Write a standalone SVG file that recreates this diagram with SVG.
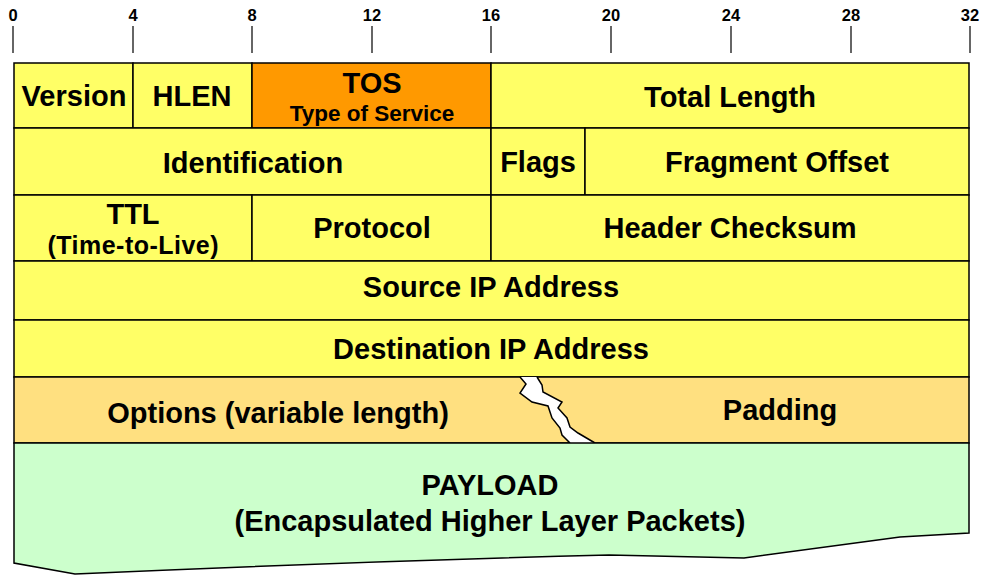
<svg xmlns="http://www.w3.org/2000/svg" width="981" height="575" viewBox="0 0 981 575">
<defs>
<style>
.cell{stroke:#000;stroke-width:1.5}
.y{fill:#FFFF66}
.o{fill:#FF9900}
.op{fill:#FFE080}
.g{fill:#CCFFCC}
.t{font-family:"Liberation Sans",Arial,sans-serif;font-weight:bold;fill:#000;text-anchor:middle}
.big{font-size:29px}
.sm{font-size:22.5px}
.tick{stroke:#333;stroke-width:1.5}
.tl{font-family:"Liberation Sans",Arial,sans-serif;font-weight:bold;font-size:16.5px;fill:#000;text-anchor:middle}
</style>
</defs>
<rect width="981" height="575" fill="#fff"/>
<g id="ruler">
<line class="tick" x1="13" y1="26" x2="13" y2="53"/>
<line class="tick" x1="133" y1="26" x2="133" y2="53"/>
<line class="tick" x1="252" y1="26" x2="252" y2="53"/>
<line class="tick" x1="372" y1="26" x2="372" y2="53"/>
<line class="tick" x1="491" y1="26" x2="491" y2="53"/>
<line class="tick" x1="611" y1="26" x2="611" y2="53"/>
<line class="tick" x1="731" y1="26" x2="731" y2="53"/>
<line class="tick" x1="851" y1="26" x2="851" y2="53"/>
<line class="tick" x1="970" y1="26" x2="970" y2="53"/>
<text class="tl" x="13" y="21">0</text>
<text class="tl" x="133" y="21">4</text>
<text class="tl" x="252" y="21">8</text>
<text class="tl" x="372" y="21">12</text>
<text class="tl" x="491" y="21">16</text>
<text class="tl" x="611" y="21">20</text>
<text class="tl" x="731" y="21">24</text>
<text class="tl" x="851" y="21">28</text>
<text class="tl" x="970" y="21">32</text>
</g>
<g id="version"><rect class="cell y" x="14" y="63" width="119" height="65"/><text class="t big" x="74" y="106">Version</text></g>
<g id="hlen"><rect class="cell y" x="133" y="63" width="119" height="65"/><text class="t big" x="192" y="106">HLEN</text></g>
<g id="tos"><rect class="cell o" x="252" y="63" width="239" height="65"/><text class="t big" x="372" y="93">TOS</text><text class="t sm" x="372" y="121">Type of Service</text></g>
<g id="total-length"><rect class="cell y" x="491" y="63" width="478" height="65"/><text class="t big" x="730" y="107">Total Length</text></g>
<g id="identification"><rect class="cell y" x="14" y="128" width="477" height="67"/><text class="t big" x="253" y="173">Identification</text></g>
<g id="flags"><rect class="cell y" x="491" y="128" width="94" height="67"/><text class="t big" x="538" y="172">Flags</text></g>
<g id="fragment-offset"><rect class="cell y" x="585" y="128" width="384" height="67"/><text class="t big" x="777" y="172">Fragment Offset</text></g>
<g id="ttl"><rect class="cell y" x="14" y="195" width="238" height="66"/><text class="t big" x="133" y="224">TTL</text><text class="t" style="font-size:25px" x="133" y="254" textLength="171">(Time-to-Live)</text></g>
<g id="protocol"><rect class="cell y" x="252" y="195" width="239" height="66"/><text class="t big" x="372" y="238">Protocol</text></g>
<g id="header-checksum"><rect class="cell y" x="491" y="195" width="478" height="66"/><text class="t big" x="730" y="238">Header Checksum</text></g>
<g id="source-ip"><rect class="cell y" x="14" y="261" width="955" height="59"/><text class="t big" x="491" y="297">Source IP Address</text></g>
<g id="destination-ip"><rect class="cell y" x="14" y="320" width="955" height="57"/><text class="t big" x="491" y="359">Destination IP Address</text></g>
<g id="options-padding">
<rect class="cell op" x="14" y="377" width="955" height="66"/>
<path d="M520,377 L526,384 L520,393 L532,402 L548,406 L552,418 L560,428 L562,435 L570,443 L595,443 L578,433 L570,427 L567,418 L558,408 L562,402 L543,392 L542,385 L537,377 Z" fill="#fff" stroke="none"/>
<path d="M520,377 L526,384 L520,393 L532,402 L548,406 L552,418 L560,428 L562,435 L570,443" fill="none" stroke="#000" stroke-width="1.5"/>
<path d="M537,377 L542,385 L543,392 L562,402 L558,408 L567,418 L570,427 L578,433 L595,443" fill="none" stroke="#000" stroke-width="1.5"/>
<text class="t big" x="278" y="423">Options (variable length)</text>
<text class="t big" x="780" y="420">Padding</text>
</g>
<g id="payload">
<path class="cell g" d="M14,443 L969,443 L969,533 L900,537 L744,558 L609,555 Q340,562 75,574 L14,563 Z"/>
<text class="t big" x="490" y="495">PAYLOAD</text>
<text class="t big" x="490" y="531">(Encapsulated Higher Layer Packets)</text>
</g>
</svg>
